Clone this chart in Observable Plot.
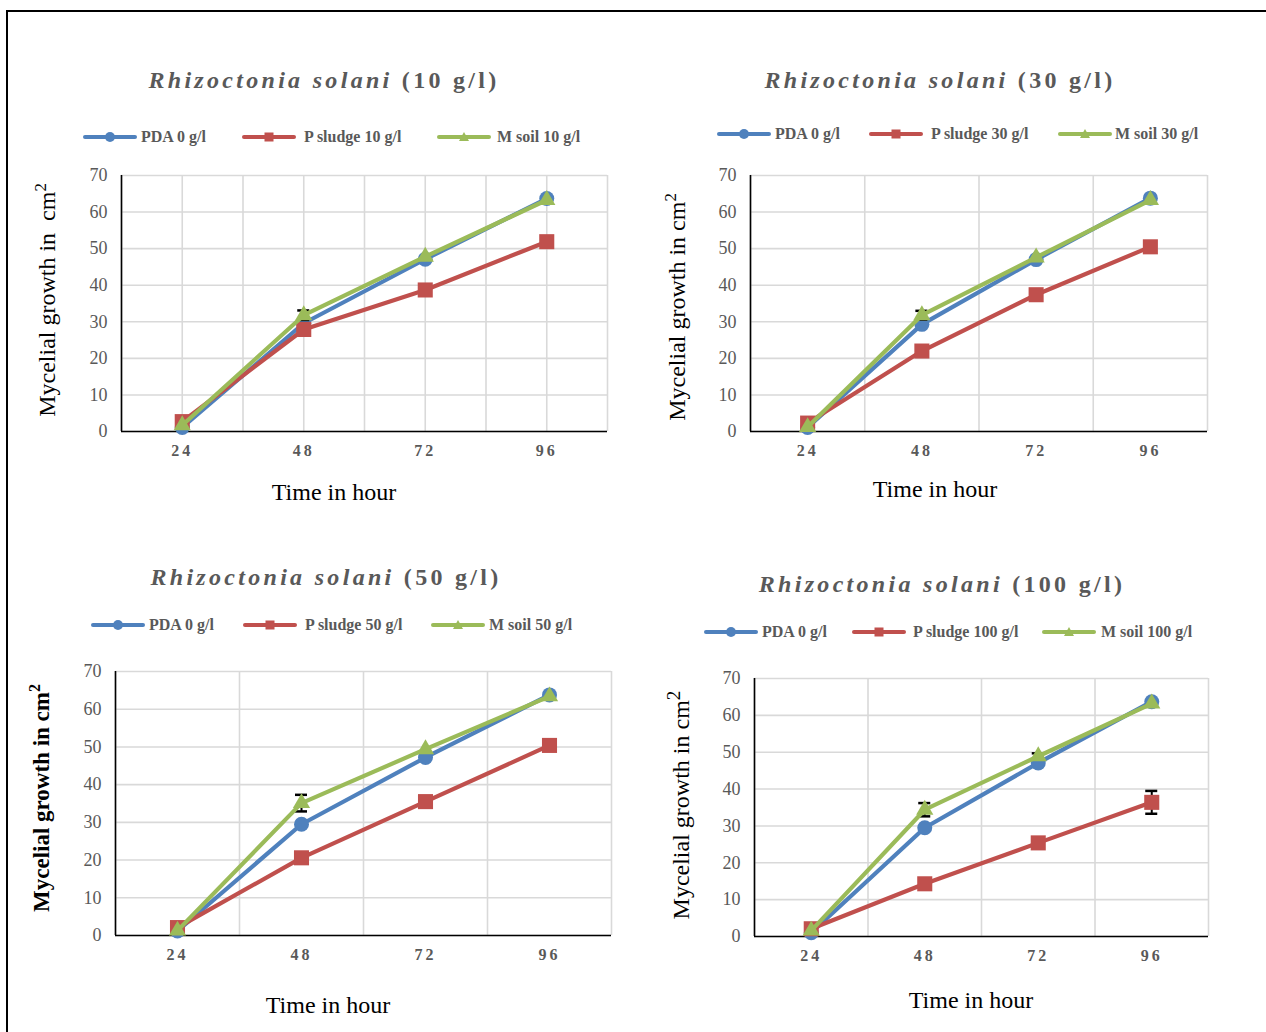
<!DOCTYPE html>
<html><head><meta charset="utf-8">
<script src="https://cdn.jsdelivr.net/npm/d3@7"></script>
<script src="https://cdn.jsdelivr.net/npm/@observablehq/plot@0.6"></script>
<style>
html,body{margin:0;padding:0;background:#fff;width:1266px;height:1032px;overflow:hidden;font-family:"Liberation Serif","Times New Roman",serif;}
#root{position:relative;width:1266px;height:1032px;overflow:hidden;}
.frame{position:absolute;left:6px;top:10px;width:1300px;height:1100px;border:2px solid #000;box-sizing:border-box;}
.abs{position:absolute;white-space:nowrap;}
.title{font-size:24px;font-weight:bold;color:#595959;letter-spacing:3.3px;text-align:center;width:600px;line-height:1;transform:translateY(-50%);}
.leg{font-size:16px;font-weight:bold;color:#595959;line-height:1;transform:translateY(-50%);}
.xt{font-size:24px;color:#000;text-align:center;width:400px;line-height:1;transform:translateY(-50%);}
.yt{font-size:24px;color:#000;text-align:center;width:400px;height:26px;line-height:26px;}
.yt sup{font-size:0.7em;line-height:0;}
g[aria-label="x-axis tick label"]{font-weight:bold;letter-spacing:3px;font-size:16px;fill:#595959;}
g[aria-label="y-axis tick label"]{font-size:18px;fill:#595959;}
</style></head><body><div id="root"><div class="frame"></div></div>
<script>
// ---------------- data ----------------
const hours = [24, 48, 72, 96];
const yTicks = [0, 10, 20, 30, 40, 50, 60, 70];
const concentrations = ["10 g/l", "30 g/l", "50 g/l", "100 g/l"];
const seriesLabels = ["PDA 0 g/l", "P sludge", "M soil"];

const pda10 = [1.1, 29.6, 47.1, 63.7];
const sludge10 = [2.7, 27.9, 38.7, 51.9];
const soil10 = [1.7, 31.8, 47.8, 63.3];
const soil10Err = [0, 1.3, 0, 0];

const pda30 = [1.1, 29.3, 47.0, 63.8];
const sludge30 = [2.3, 22.0, 37.4, 50.5];
const soil30 = [1.2, 31.8, 47.6, 63.3];
const soil30Err = [0, 1.2, 0, 0];

const pda50 = [1.2, 29.5, 47.2, 63.8];
const sludge50 = [2.1, 20.6, 35.5, 50.4];
const soil50 = [1.3, 35.1, 49.4, 63.4];
const soil50Err = [0, 2.2, 0, 0];

const pda100 = [1.0, 29.5, 47.1, 63.7];
const sludge100 = [2.1, 14.3, 25.4, 36.4];
const sludge100Err = [0, 0, 0, 3.1];
const soil100 = [1.6, 34.4, 48.9, 63.2];
const soil100Err = [0, 1.8, 0.8, 0];

// ---------------- styles / layout ----------------
const colors = ["#4f81bd", "#c0504d", "#9bbb59"];
const symbols = ["circle", "square", "triangle"];
const radii = [7.5, 8.5, 6.4];

const panels = [
  {conc: concentrations[0], L:121, T:175, R:607, B:431, tcx:324, tcy:80, legY:137,
   leg:[[83,141],[242,304],[437,497]], xcx:334, xcy:492, ycx:47, ycy:300, yBold:false, centerGrid:true,
   yHTML:'Mycelial growth in&nbsp; cm<sup>2</sup>',
   vals:[pda10, sludge10, soil10], errs:[null, null, soil10Err]},
  {conc: concentrations[1], L:750, T:175, R:1207, B:431, tcx:940, tcy:80, legY:134,
   leg:[[717,775],[869,931],[1058,1115]], xcx:935, xcy:489, ycx:677, ycy:307, yBold:false, centerGrid:false,
   yHTML:'Mycelial growth in cm<sup>2</sup>',
   vals:[pda30, sludge30, soil30], errs:[null, null, soil30Err]},
  {conc: concentrations[2], L:115, T:671, R:611, B:935, tcx:326, tcy:577, legY:625,
   leg:[[91,149],[243,305],[431,489]], xcx:328, xcy:1005, ycx:42, ycy:798, yBold:true, centerGrid:false,
   yHTML:'Mycelial growth in cm<sup>2</sup>',
   vals:[pda50, sludge50, soil50], errs:[null, null, soil50Err]},
  {conc: concentrations[3], L:754, T:678, R:1208, B:936, tcx:942, tcy:584, legY:632,
   leg:[[704,762],[852,913],[1042,1101]], xcx:971, xcy:1000, ycx:681, ycy:805, yBold:false, centerGrid:false,
   yHTML:'Mycelial growth in cm<sup style="font-size:0.8em">2</sup>',
   vals:[pda100, sludge100, soil100], errs:[null, sludge100Err, soil100Err]}
];

const root = document.getElementById("root");
function el(cls, html, css) {
  const d = document.createElement("div");
  d.className = "abs " + cls;
  d.innerHTML = html;
  Object.assign(d.style, css);
  root.appendChild(d);
  return d;
}

function swatch(i) {
  const c = colors[i];
  let m;
  if (i === 0) m = `<circle cx="27" cy="6" r="5" fill="${c}"/>`;
  else if (i === 1) m = `<rect x="22.5" y="1.5" width="9" height="9" fill="${c}"/>`;
  else m = `<path d="M27,1 L32,10 L22,10 Z" fill="${c}"/>`;
  return `<svg width="54" height="12"><line x1="2" y1="6" x2="52" y2="6" stroke="${c}" stroke-width="4" stroke-linecap="round"/>${m}</svg>`;
}

panels.forEach(p => {
  el("title", `<i>Rhizoctonia solani</i> (${p.conc})`, {left:(p.tcx-300)+"px", top:p.tcy+"px"});
  const names = [seriesLabels[0], seriesLabels[1] + " " + p.conc, seriesLabels[2] + " " + p.conc];
  names.forEach((n, i) => {
    el("", swatch(i), {left:p.leg[i][0]+"px", top:(p.legY-6)+"px", lineHeight:"0"});
    el("leg", n, {left:p.leg[i][1]+"px", top:p.legY+"px"});
  });
  el("xt", "Time in hour", {left:(p.xcx-200)+"px", top:p.xcy+"px"});
  el("yt", p.yHTML, {left:(p.ycx-200)+"px", top:(p.ycy-13)+"px", transform:"rotate(-90deg)", fontWeight:p.yBold?"bold":"normal", fontSize:p.yBold?"23px":"24px"});

  const ml = 60, mr = 12, mt = 12, mb = 40;
  const W = p.R - p.L + ml + mr, H = p.B - p.T + mt + mb;
  const step = hours[1] - hours[0];
  const bounds = hours.map(h => h - step/2).concat([hours[hours.length-1] + step/2]);
  const grid = p.centerGrid ? bounds.concat(hours) : bounds;
  const pxPerHour = (p.R - p.L) / (bounds[bounds.length-1] - bounds[0]);
  const cap = 6 / pxPerHour;

  const marks = [
    Plot.ruleY(yTicks, {y: d => d, stroke:"#d9d9d9", strokeWidth:1.6}),
    Plot.ruleX(grid, {x: d => d, stroke:"#d9d9d9", strokeWidth:1.6}),
    Plot.ruleX([bounds[0]], {x: d => d, stroke:"#000", strokeWidth:1.6}),
    Plot.ruleY([0], {y: d => d, stroke:"#000", strokeWidth:1.6}),
    Plot.axisY({ticks: yTicks, tickSize:0, tickPadding:14, fontSize:18, label:null, tickFormat: d => String(d)}),
    Plot.axisX({ticks: hours, tickSize:0, tickPadding:13, fontSize:16, fontWeight:"bold", label:null, tickFormat: d => String(d)})
  ];
  p.vals.forEach((vals, i) => {
    const rows = hours.map((h, j) => ({hour:h, v:vals[j], e: p.errs[i] ? p.errs[i][j] : 0}));
    const er = rows.filter(d => d.e > 0);
    marks.push(Plot.ruleX(er, {x:"hour", y1: d => d.v - d.e, y2: d => d.v + d.e, stroke:"#000", strokeWidth:2}));
    marks.push(Plot.ruleY(er, {y: d => d.v + d.e, x1: d => d.hour - cap, x2: d => d.hour + cap, stroke:"#000", strokeWidth:2.5}));
    marks.push(Plot.ruleY(er, {y: d => d.v - d.e, x1: d => d.hour - cap, x2: d => d.hour + cap, stroke:"#000", strokeWidth:2.5}));
    marks.push(Plot.line(rows, {x:"hour", y:"v", stroke:colors[i], strokeWidth:4.2, strokeLinejoin:"round"}));
    marks.push(Plot.dot(rows, {x:"hour", y:"v", symbol:symbols[i], fill:colors[i], stroke:"none", r:radii[i]}));
  });

  const chart = Plot.plot({
    width: W, height: H,
    marginLeft: ml, marginRight: mr, marginTop: mt, marginBottom: mb,
    x: {type:"linear", domain:[bounds[0], bounds[bounds.length-1]], label:null},
    y: {type:"linear", domain:[0, 70], label:null},
    style: {fontFamily:'"Liberation Serif","Times New Roman",serif', color:"#595959", background:"transparent", overflow:"visible"},
    marks
  });
  const wrap = document.createElement("div");
  wrap.className = "abs";
  wrap.style.left = (p.L - ml) + "px";
  wrap.style.top = (p.T - mt) + "px";
  wrap.appendChild(chart);
  root.appendChild(wrap);
});
</script></body></html>
